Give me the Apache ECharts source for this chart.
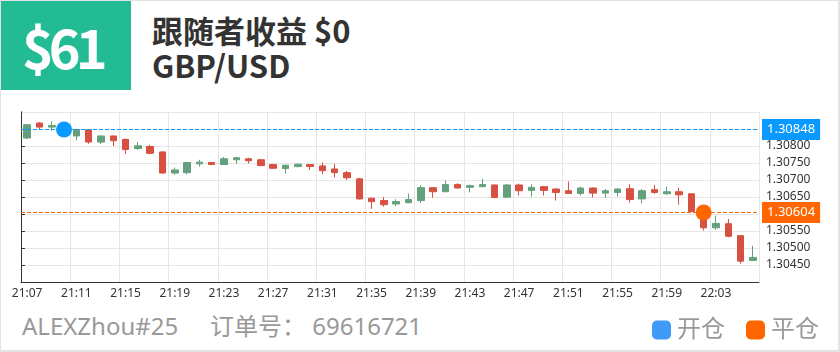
<!DOCTYPE html>
<html>
<head>
<meta charset="utf-8">
<script src="https://cdn.jsdelivr.net/npm/echarts@6/dist/echarts.min.js"></script>
<style>
  html, body { margin: 0; padding: 0; background: #fff; }
  #wrap { position: relative; width: 840px; height: 352px; overflow: hidden;
    font-family: "Microsoft YaHei", "Noto Sans", "Noto Sans CJK SC", sans-serif; }
  #frame { position: absolute; left: 0; top: 0; width: 840px; height: 352px;
    box-sizing: border-box; border: 1px solid #e3e3e3; border-right-width: 2px; border-bottom-width: 2px; }
  #badge { position: absolute; left: 1px; top: 1px; width: 130px; height: 89px; background: #22bb93;
    color: #fff; font-weight: bold; font-size: 54px; line-height: 89px; text-indent: 21px;
    font-family: "Noto Sans CJK SC", sans-serif; letter-spacing: -5px; }
  #title { position: absolute; left: 152px; top: 12px; color: #333; font-weight: bold; font-size: 31px; line-height: 35px;
    font-family: "Noto Sans CJK SC", sans-serif; }
  .foot { position: absolute; top: 311px; color: #999; font-size: 24px; line-height: 30px; white-space: pre; }
  #echart { position: absolute; left: 0; top: 0; width: 840px; height: 352px; }
</style>
</head>
<body>
<div id="wrap">
  <div id="frame"></div>
  <div id="badge">$61</div>
  <div id="title">跟随者收益 $0<br>GBP/USD</div>
  <div class="foot" style="left:22px">ALEXZhou#25</div>
  <div class="foot" style="left:210px">订单号： 69616721</div>
  <div id="echart"></div>
</div>
<script>
// 分钟K线 GBP/USD
var times = ['21:07','21:08','21:09','21:10','21:11','21:12','21:13','21:14','21:15','21:16',
  '21:17','21:18','21:19','21:20','21:21','21:22','21:23','21:24','21:25','21:26',
  '21:27','21:28','21:29','21:30','21:31','21:32','21:33','21:34','21:35','21:36',
  '21:37','21:38','21:39','21:40','21:41','21:42','21:43','21:44','21:45','21:46',
  '21:47','21:48','21:49','21:50','21:51','21:52','21:53','21:54','21:55','21:56',
  '21:57','21:58','21:59','22:00','22:01','22:02','22:03','22:04','22:05','22:06'];

var opens = [1.30823,1.30867,1.30855,1.30856,1.30829,1.30847,1.30811,1.30829,1.30819,1.30792,
  1.30798,1.30782,1.30720,1.30721,1.30747,1.30751,1.30745,1.30759,1.30762,1.30759,
  1.30745,1.30733,1.30739,1.30745,1.30741,1.30732,1.30721,1.30703,1.30646,1.30639,
  1.30629,1.30633,1.30639,1.30677,1.30665,1.30686,1.30678,1.30680,1.30685,1.30649,
  1.30685,1.30669,1.30680,1.30673,1.30668,1.30660,1.30676,1.30661,1.30663,1.30674,
  1.30644,1.30671,1.30659,1.30665,1.30659,1.30607,1.30559,1.30571,1.30536,1.30463];
var closes = [1.30862,1.30855,1.30860,1.30840,1.30848,1.30811,1.30829,1.30815,1.30789,1.30800,
  1.30778,1.30720,1.30729,1.30751,1.30752,1.30745,1.30762,1.30765,1.30756,1.30742,
  1.30734,1.30743,1.30746,1.30739,1.30727,1.30721,1.30706,1.30644,1.30636,1.30627,
  1.30636,1.30642,1.30677,1.30665,1.30686,1.30676,1.30683,1.30686,1.30648,1.30685,
  1.30668,1.30678,1.30669,1.30663,1.30660,1.30676,1.30661,1.30668,1.30673,1.30642,
  1.30668,1.30663,1.30665,1.30656,1.30607,1.30559,1.30572,1.30534,1.30461,1.30472];
var lows = [1.30820,1.30848,1.30844,1.30830,1.30816,1.30806,1.30805,1.30799,1.30776,1.30788,
  1.30776,1.30718,1.30715,1.30716,1.30739,1.30744,1.30744,1.30747,1.30748,1.30740,
  1.30732,1.30718,1.30737,1.30729,1.30717,1.30707,1.30700,1.30642,1.30615,1.30621,
  1.30623,1.30631,1.30632,1.30647,1.30664,1.30675,1.30663,1.30678,1.30647,1.30647,
  1.30654,1.30650,1.30654,1.30639,1.30659,1.30654,1.30648,1.30647,1.30651,1.30633,
  1.30631,1.30659,1.30656,1.30627,1.30606,1.30551,1.30553,1.30531,1.30453,1.30462];
var highs = [1.30864,1.30870,1.30872,1.30862,1.30850,1.30849,1.30830,1.30830,1.30821,1.30811,
  1.30803,1.30784,1.30736,1.30752,1.30759,1.30752,1.30767,1.30768,1.30765,1.30762,
  1.30747,1.30744,1.30748,1.30746,1.30751,1.30747,1.30726,1.30706,1.30647,1.30649,
  1.30643,1.30659,1.30685,1.30678,1.30698,1.30690,1.30686,1.30703,1.30686,1.30687,
  1.30689,1.30687,1.30682,1.30675,1.30695,1.30680,1.30678,1.30673,1.30675,1.30687,
  1.30673,1.30685,1.30680,1.30677,1.30660,1.30609,1.30595,1.30585,1.30537,1.30506];

// 开仓 / 平仓
var openPoint = ['21:10', 1.30848];
var closePoint = ['22:02', 1.30604];

var FONT = '"Microsoft YaHei", "Noto Sans", "Noto Sans CJK SC", sans-serif';
var BLUE = '#0a99ff', ORANGE = '#ff6600';

var kdata = [];
for (var i = 0; i < times.length; i++) {
  kdata.push([opens[i], closes[i], lows[i], highs[i]]);
}

// 开/平仓价格虚线 (画在隐藏的 0~1 x轴上, 横跨整个grid)
function priceLine(price, color) {
  return {
    type: 'line',
    xAxisIndex: 1,
    silent: true,
    symbol: 'none',
    z: 3,
    data: [[0, price], [1, price]],
    itemStyle: { color: color },
    lineStyle: { color: color, type: 'dashed', width: 1 },
    endLabel: {
      show: true, distance: 3, color: '#fff', backgroundColor: color,
      padding: [4, 5, 4, 5], fontSize: 13, lineHeight: 13,
      formatter: price.toFixed(5)
    }
  };
}

var myChart = echarts.init(document.getElementById('echart'));
myChart.setOption({
  animation: false,
  textStyle: { fontFamily: FONT },
  // top/height 微调, 让两条 1px 虚线落在整像素上
  grid: { left: 21, top: 111.812, width: 738, height: 170.08 },
  legend: {
    data: [
      { name: '开仓', itemStyle: { color: '#3f9bf5' } },
      { name: '平仓', itemStyle: { color: ORANGE } }
    ],
    left: 652, top: 318, padding: 0, icon: 'roundRect', itemWidth: 19, itemHeight: 19, itemGap: 21,
    selectedMode: false,
    textStyle: { fontSize: 24, color: '#999', fontFamily: FONT, padding: [0, 0, 0, 1] }
  },
  xAxis: [{
    type: 'category',
    data: times,
    axisLine: { lineStyle: { color: '#333' } },
    axisTick: { alignWithLabel: true, interval: 3, length: 4 },
    axisLabel: { interval: 3, color: '#333', fontSize: 12, margin: 6 },
    splitLine: { show: true, interval: 3, lineStyle: { color: '#e6e6e6' } }
  }, {
    type: 'value', min: 0, max: 1, show: false
  }],
  yAxis: {
    type: 'value',
    position: 'right',
    min: 1.304, max: 1.309, interval: 0.0005,
    axisLine: { show: true, lineStyle: { color: '#333' } },
    axisTick: { show: true, length: 4 },
    axisLabel: {
      color: '#333', fontSize: 12, margin: 7, showMinLabel: false, showMaxLabel: false,
      formatter: function (v) { return v.toFixed(5); }
    },
    splitLine: { lineStyle: { color: '#e6e6e6' } }
  },
  series: [
    {
      type: 'candlestick',
      data: kdata,
      barWidth: 7,
      itemStyle: {
        color: '#64a07d', color0: '#d75041',
        borderColor: '#64a07d', borderColor0: '#d75041', borderWidth: 1
      }
    },
    priceLine(openPoint[1], BLUE),
    priceLine(closePoint[1], ORANGE),
    {
      name: '开仓', type: 'scatter', data: [openPoint], symbolSize: 16, z: 5,
      itemStyle: { color: BLUE, opacity: 1 }
    },
    {
      name: '平仓', type: 'scatter', data: [closePoint], symbolSize: 16, z: 5,
      itemStyle: { color: ORANGE, opacity: 1 }
    }
  ]
});
</script>
</body>
</html>
